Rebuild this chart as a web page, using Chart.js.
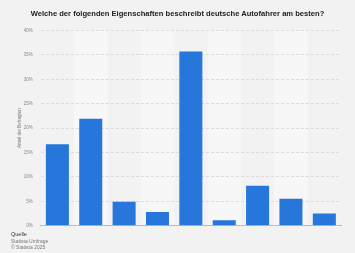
<!DOCTYPE html>
<html lang="de">
<head>
<meta charset="UTF-8">
<script src="https://cdn.jsdelivr.net/npm/chart.js"></script>
<style>
    body, html { margin: 0; padding: 0; width: 355px; height: 253px; background: #f2f2f2; overflow: hidden; font-family: "Liberation Sans", Arial, sans-serif; }
    #wrap { position: absolute; left: 0; top: 0; width: 355px; height: 253px; }
    #title { position: absolute; left: 0; top: 9px; width: 355px; text-align: center; font-size: 7.6px; font-weight: bold; color: #222; }
    #source { position: absolute; left: 11px; top: 231px; font-size: 5px; line-height: 6.5px; color: #777; }
    #source b { color: #333; font-weight: normal; font-size: 5.5px; }
</style>
</head>
<body>
<div id="wrap"><canvas id="c" width="355" height="253"></canvas></div>
<div id="title">Welche der folgenden Eigenschaften beschreibt deutsche Autofahrer am besten?</div>
<div id="source"><b>Quelle</b><br>Statista Umfrage<br>© Statista 2025</div>
<script>
    // nine answer options, labels not shown in the picture
    const categories = ['1', '2', '3', '4', '5', '6', '7', '8', '9'];
    const shares = [16.7, 21.9, 4.9, 2.8, 35.7, 1.1, 8.2, 5.5, 2.5];
    const yTicks = [0, 5, 10, 15, 20, 25, 30, 35, 40];

    const bands = {
        id: 'bands',
        beforeDraw(chart) {
            const ctx = chart.ctx, x = chart.scales.x, a = chart.chartArea;
            const w = (a.right - a.left) / categories.length;
            ctx.save();
            ctx.fillStyle = '#f7f7f7';
            categories.forEach((c, i) => {
                if (i % 2 === 1) {
                    const cx = x.getPixelForValue(i);
                    ctx.fillRect(cx - w / 2, a.top, w, a.bottom - a.top);
                }
            });
            ctx.restore();
        }
    };

    new Chart(document.getElementById('c'), {
        type: 'bar',
        data: {
            labels: categories,
            datasets: [{
                data: shares,
                backgroundColor: '#2676dc',
                categoryPercentage: 0.69,
                barPercentage: 1
            }]
        },
        plugins: [bands],
        options: {
            responsive: false,
            animation: false,
            layout: { padding: { left: 0, right: 14, top: 30.5, bottom: 27.3 } },
            plugins: { legend: { display: false }, tooltip: { enabled: false } },
            scales: {
                x: {
                    afterFit(s) { s.height = 0; },
                    ticks: { display: false },
                    grid: { display: false },
                    border: { color: '#bcbcbc', width: 1 }
                },
                y: {
                    min: 0, max: 40,
                    afterFit(s) { s.width = 40.7; },
                    afterBuildTicks(s) { s.ticks = yTicks.map(v => ({ value: v })); },
                    ticks: {
                        font: { size: 4.5, family: 'Liberation Sans' },
                        color: '#888',
                        padding: 8,
                        callback: v => v + '%'
                    },
                    grid: { color: '#dcdcdc', drawTicks: false },
                    border: { display: false, dash: [3, 2] },
                    title: {
                        display: true,
                        text: 'Anteil der Befragten',
                        font: { size: 4.5, family: 'Liberation Sans' },
                        color: '#777',
                        padding: { top: 17, bottom: 0 }
                    }
                }
            }
        }
    });
</script>
</body>
</html>
